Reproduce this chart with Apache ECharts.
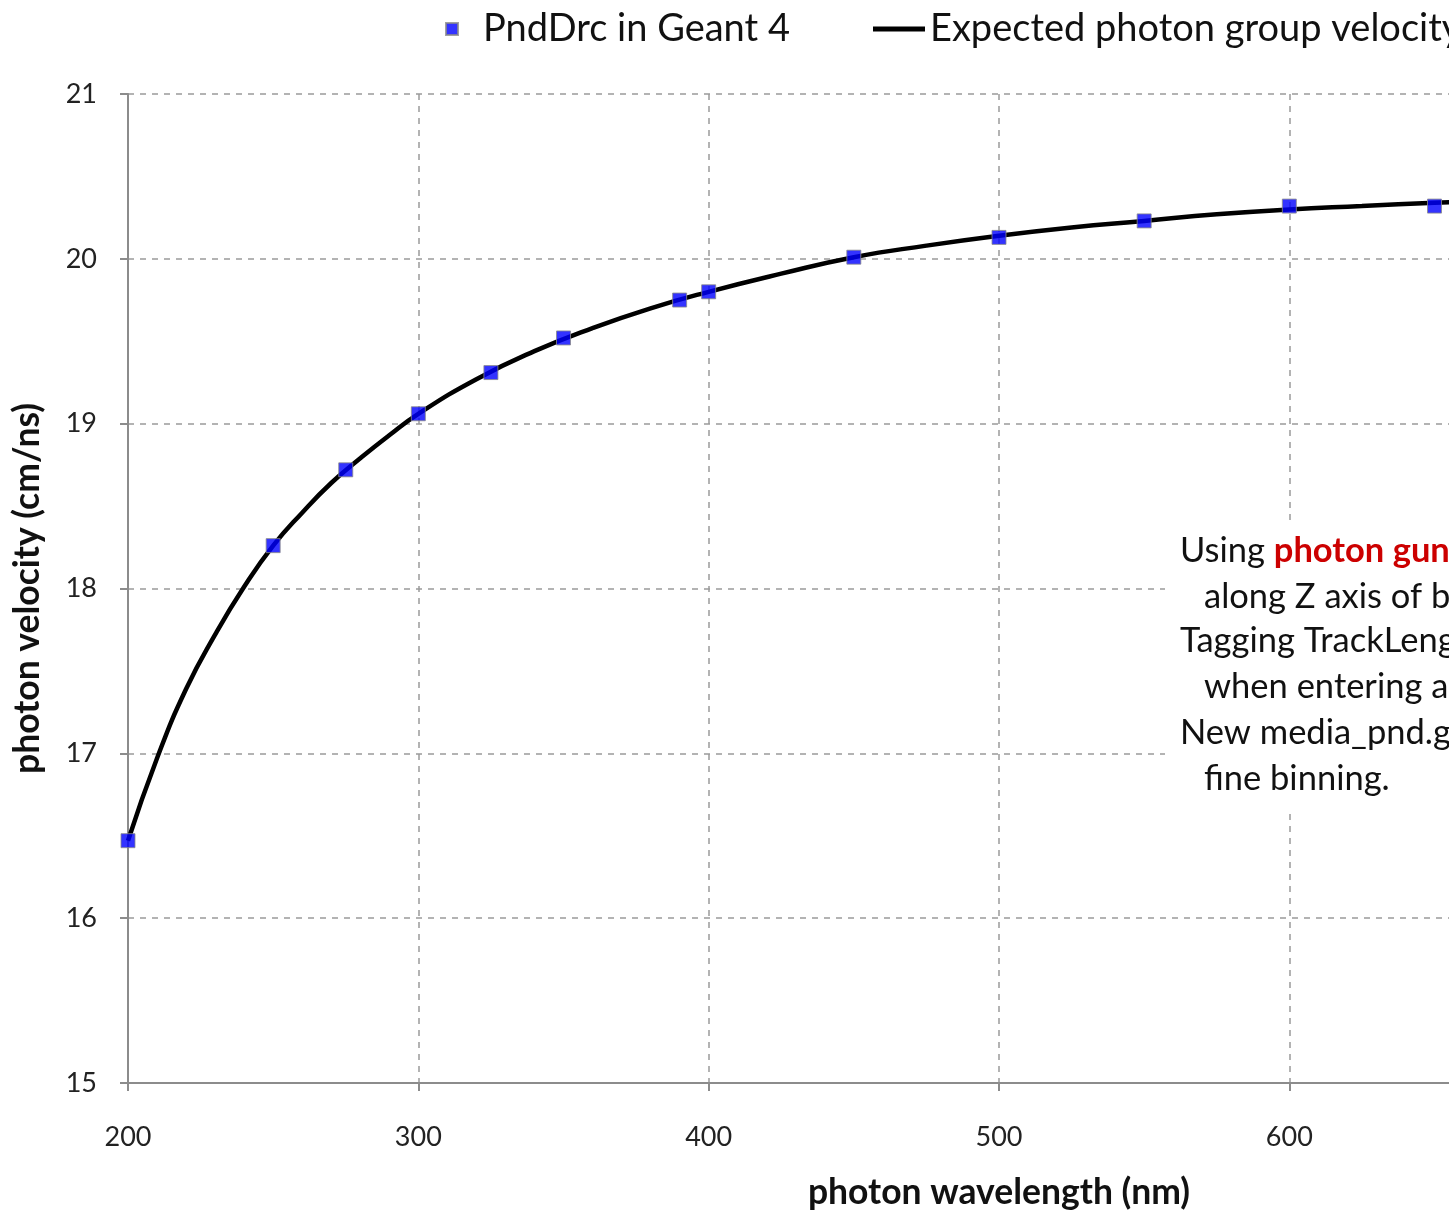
<!DOCTYPE html>
<html>
<head>
<meta charset="utf-8">
<script src="https://cdn.jsdelivr.net/npm/echarts@6/dist/echarts.min.js"></script>
<style>html,body{margin:0;padding:0;background:#fff;overflow:hidden;width:1449px;height:1216px;}#c{width:1900px;height:1216px;}</style>
</head>
<body>
<div id="c"></div>
<script>
// Geant4 simulated points
const simWavelength = [200, 250, 275, 300, 325, 350, 390, 400, 450, 500, 550, 600, 650];
const simVelocity   = [16.47, 18.26, 18.72, 19.06, 19.31, 19.52, 19.75, 19.80, 20.01, 20.13, 20.23, 20.32, 20.32];
// Expected curve
const expWavelength = [200, 210, 220, 230, 240, 250, 260, 270, 280, 290, 300, 320, 340, 360, 380, 400, 425, 450, 475, 500, 525, 550, 575, 600, 625, 650, 675, 700, 750, 800];
const expVelocity   = [16.47, 16.97, 17.39, 17.72, 18.01, 18.26, 18.46, 18.64, 18.79, 18.93, 19.06, 19.27, 19.44, 19.58, 19.70, 19.80, 19.91, 20.01, 20.08, 20.14, 20.19, 20.23, 20.27, 20.30, 20.32, 20.34, 20.355, 20.37, 20.40, 20.42];
const seriesNames = ['PndDrc in Geant 4', 'Expected photon group velocity'];
const xTitle = 'photon wavelength (nm)';
const yTitle = 'photon velocity (cm/ns)';
const noteLines = ['Using ', 'photon gun', 'along Z axis of bar', 'Tagging TrackLength', 'when entering and exiting', 'New media_pnd.geo with', 'fine binning.'];

const F = 'Lato';
const NF = 34.5;
const chart = echarts.init(document.getElementById('c'), null, {renderer: 'canvas'});
const gridCol = '#9a9a9a';
chart.setOption({
  animation: false,
  backgroundColor: '#fff',
  textStyle: {fontFamily: F},
  grid: {left: 128, top: 94, bottom: 129, right: 30, containLabel: false},
  legend: [
    {data: [{name: seriesNames[0], icon: 'rect'}], left: 440, top: 5, itemWidth: 12, itemHeight: 12,
     textStyle: {fontFamily: F, fontSize: 38, color: '#111', padding: [0, 0, 0, 20]}},
    {data: [{name: seriesNames[1], icon: 'rect', itemStyle: {color: '#000'}}], left: 868, top: 5, itemWidth: 52, itemHeight: 5,
     textStyle: {fontFamily: F, fontSize: 38, color: '#111'}}
  ],
  xAxis: {
    type: 'value', min: 200, max: 800, interval: 100,
    name: xTitle, nameLocation: 'middle', nameGap: 92,
    nameTextStyle: {fontFamily: F, fontSize: 35.5, fontWeight: 'bold', color: '#111'},
    axisLine: {show: true, lineStyle: {color: '#8c8c8c', width: 2}},
    axisTick: {show: true, length: 8, lineStyle: {color: '#8c8c8c', width: 2}},
    axisLabel: {fontFamily: F, fontSize: 27, color: '#222', margin: 41},
    splitLine: {show: true, lineStyle: {color: gridCol, width: 1.5, type: [6, 6]}}
  },
  yAxis: {
    type: 'value', min: 15, max: 21, interval: 1,
    name: yTitle, nameLocation: 'middle', nameGap: 82, nameRotate: 90,
    nameTextStyle: {fontFamily: F, fontSize: 35.5, fontWeight: 'bold', color: '#111'},
    axisLine: {show: true, lineStyle: {color: '#8c8c8c', width: 2}},
    axisTick: {show: true, length: 8, lineStyle: {color: '#8c8c8c', width: 2}},
    axisLabel: {fontFamily: F, fontSize: 27, color: '#222', margin: 31},
    splitLine: {show: true, lineStyle: {color: gridCol, width: 1.5, type: [6, 6]}}
  },
  series: [
    {
      name: seriesNames[1], type: 'line', z: 2,
      data: expWavelength.map((w, i) => [w, expVelocity[i]]),
      showSymbol: false, symbol: 'none', smooth: 0.5,
      lineStyle: {color: '#000', width: 4.5},
      itemStyle: {color: '#000'}
    },
    {
      name: seriesNames[0], type: 'scatter', z: 3,
      data: simWavelength.map((w, i) => [w, simVelocity[i]]),
      symbol: 'rect', symbolSize: 14,
      itemStyle: {color: '#0000ff', borderColor: '#8a8a8a', borderWidth: 1}
    }
  ],
  graphic: [
    {type: 'rect', left: 1165, top: 524, z: 100, shape: {width: 700, height: 284}, style: {fill: '#fff'}},
    {type: 'text', left: 1180, top: 533, z: 101, style: {
      text: '{n|' + noteLines[0] + '}{r|' + noteLines[1] + '}',
      rich: {n: {fontFamily: F, fontSize: NF, fill: '#111'}, r: {fontFamily: F, fontSize: NF, fontWeight: 'bold', fill: '#cc0000'}}
    }},
    {type: 'text', left: 1204, top: 579, z: 101, style: {text: noteLines[2], font: NF + 'px Lato', fill: '#111'}},
    {type: 'text', left: 1180, top: 623, z: 101, style: {text: noteLines[3], font: NF + 'px Lato', fill: '#111'}},
    {type: 'text', left: 1204, top: 669, z: 101, style: {text: noteLines[4], font: NF + 'px Lato', fill: '#111'}},
    {type: 'text', left: 1180, top: 715, z: 101, style: {text: noteLines[5], font: NF + 'px Lato', fill: '#111'}},
    {type: 'text', left: 1204, top: 761, z: 101, style: {text: noteLines[6], font: NF + 'px Lato', fill: '#111'}}
  ]
});
</script>
</body>
</html>
